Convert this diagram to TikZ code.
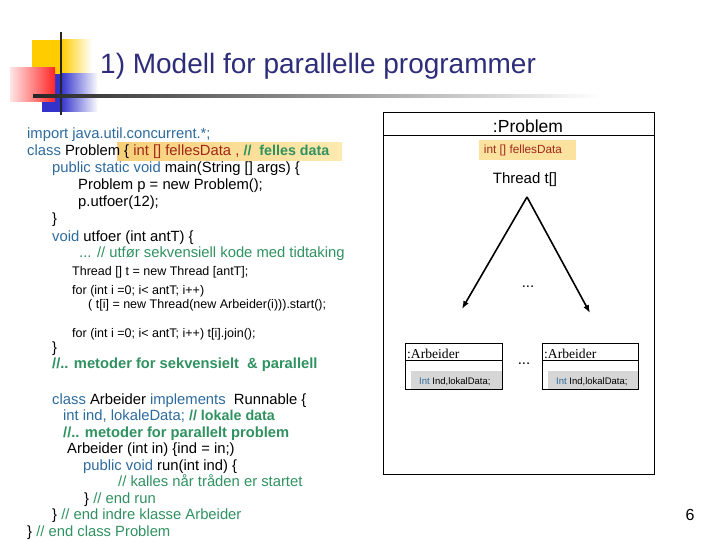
\documentclass[tikz,border=0pt]{standalone}
\usepackage{fontspec}
\setmainfont{Liberation Sans}
\newfontfamily\umlfont{Liberation Serif}
\usetikzlibrary{arrows.meta}
\definecolor{titelblau}{HTML}{2D2D7A}
\definecolor{kwblau}{HTML}{2C6A9E}
\definecolor{komgruen}{HTML}{2F9160}
\definecolor{datarot}{HTML}{A0281A}
\definecolor{gelb}{HTML}{FFCC00}
\definecolor{blau}{HTML}{3333CC}
\definecolor{hlorange}{HTML}{F8CF78}
\definecolor{hlgelb}{HTML}{FDEAB0}
\newcommand{\kw}[1]{\textcolor{kwblau}{#1}}
\newcommand{\kom}[1]{\textcolor{komgruen}{#1}}
\newcommand{\bkom}[1]{\textcolor{komgruen}{\fontsize{14.3}{17}\selectfont\bfseries #1}}
\newcommand{\rot}[1]{\textcolor{datarot}{#1}}
\begin{document}
\begin{tikzpicture}[x=1pt,y=-1pt,
    kode/.style={anchor=base west,inner sep=0pt,font=\fontsize{14.8}{17}\selectfont},
    klein/.style={kode,font=\fontsize{12.5}{14}\selectfont},
    fett/.style={kode,text=komgruen,font=\fontsize{14.7}{17}\selectfont\bfseries},
    objbox/.style={draw,line width=0.8pt,minimum width=97pt,minimum height=46pt,anchor=north west,inner sep=0pt},
    pfeil/.style={line width=1.6pt,-{Latex[length=8pt,width=6pt]}}]
\useasboundingbox (0,0) rectangle (720,540);
% Folienlogo
\fill[gelb] (32,40) rectangle (61,74);
\shade[left color=gelb,right color=white] (61,40) rectangle (92,74);
\fill[blau] (42,74) rectangle (61,112);
\shade[left color=blau,right color=white] (61,74) rectangle (98,112);
\shade[left color=red!10,right color=red!85] (10,68) rectangle (55,102);
\draw[line width=2.6pt,black!85] (61,32) -- (61,115);
\shade[left color=black!85,right color=white] (33,94.5) rectangle (600,97.5);
\node[anchor=base west,inner sep=0pt,text=titelblau,font=\fontsize{28}{32}\selectfont] (titel) at (100,74) {1) Modell for parallelle programmer};
% Javakode
\shade[left color=hlorange,right color=hlgelb] (117,143) rectangle (342,161);
\node[kode] (imp) at (27,139) {\kw{import java.util.concurrent.*;}};
\node[kode] (klasse) at (27,156) {\kw{class} Problem \{ \rot{int [] fellesData ,} \bkom{//\ \ felles data}};
\node[kode] (hoved) at (52,173) {\kw{public static void} main(String [] args) \{};
\node[kode] (nyp) at (78,190) {Problem p = new Problem();};
\node[kode] (kall) at (78,207) {p.utfoer(12);};
\node[kode] (slutt1) at (52,224) {\}};
\node[kode] (utfoer) at (52,241) {\kw{void} utfoer (int antT) \{};
\node[kode] (sekv) at (79,258) {\kom{... // utfør sekvensiell kode med tidtaking}};
\node[klein] (tab) at (72,275) {Thread [] t = new Thread [antT];};
\node[klein] (for1) at (72,294) {for (int i =0; i< antT; i++)};
\node[klein] (start) at (88,308) {( t[i] = new Thread(new Arbeider(i))).start();};
\node[klein] (for2) at (72,337) {for (int i =0; i< antT; i++) t[i].join();};
\node[kode] (slutt2) at (52,352) {\}};
\node[fett] (metoder1) at (52,368) {//.. metoder for sekvensielt\ \ \& parallell};
\node[kode] (arbklasse) at (52,404) {\kw{class} Arbeider \kw{implements}\ \ Runnable \{};
\node[kode] (lokal) at (63,420.5) {\kw{int ind, lokaleData;} \bkom{// lokale data}};
\node[fett] (metoder2) at (63,437) {//.. metoder for parallelt problem};
\node[kode] (konstr) at (67,453.5) {Arbeider (int in) \{ind = in;)};
\node[kode] (run) at (83,470) {\kw{public void} run(int ind) \{};
\node[kode] (kalles) at (118,486.5) {\kom{// kalles når tråden er startet}};
\node[kode] (endrun) at (84,503) {\} \kom{// end run}};
\node[kode] (endarb) at (52,519.5) {\} \kom{// end indre klasse Arbeider}};
\node[kode] (endprob) at (27,536) {\} \kom{// end class Problem}};
% Objektdiagram
\node[draw,line width=1pt,minimum width=271pt,minimum height=362pt,anchor=north west] (problem) at (383,112) {};
\draw[line width=1pt] ([yshift=-24pt]problem.north west) -- ([yshift=-24pt]problem.north east);
\node[anchor=base,inner sep=0pt,font=\fontsize{17.5}{20}\selectfont] (probnavn) at (528,133) {:Problem};
\node[fill=hlgelb!70!hlorange,minimum width=97pt,minimum height=20pt,anchor=north west,inner sep=0pt] (felles) at (479,140) {};
\node[anchor=base,inner sep=0pt,text=datarot,font=\fontsize{11.8}{14}\selectfont] (fellestxt) at (523,154) {int [] fellesData};
\node[anchor=base,inner sep=0pt,font=\fontsize{15}{17}\selectfont] (traader) at (525,184) {Thread t[]};
\coordinate (topp) at (527,197);
\coordinate (venstre) at (462,309);
\coordinate (hoyre) at (590,313);
\draw[pfeil] (topp) -- (venstre);
\draw[pfeil] (topp) -- (hoyre);
\node[anchor=base,inner sep=0pt,font=\fontsize{15}{17}\selectfont] (prikker1) at (528,287) {...};
\node[objbox] (arb1) at (405,343) {};
\node[objbox,minimum width=96pt] (arb2) at (542,343) {};
\foreach \b in {arb1,arb2}{
  \fill[black!16] ([xshift=6pt,yshift=-28pt]\b.north west) rectangle ([xshift=-0.4pt]\b.south east);
  \draw[line width=0.8pt] ([yshift=-17pt]\b.north west) -- ([yshift=-17pt]\b.north east);
  \draw[line width=0.8pt] (\b.north west) rectangle (\b.south east);
  \node[anchor=base west,inner sep=0pt,font=\umlfont\fontsize{13.6}{15}\selectfont] (\b navn) at ([xshift=2pt,yshift=-15pt]\b.north west) {:Arbeider};
  \node[anchor=base west,inner sep=0pt,font=\fontsize{9.5}{11}\selectfont] (\b data) at ([xshift=14pt,yshift=-41pt]\b.north west) {\kw{Int} Ind,lokalData;};
}
\node[anchor=base,inner sep=0pt,font=\fontsize{15}{17}\selectfont] (prikker2) at (524,364) {...};
\node[anchor=base,inner sep=0pt,font=\fontsize{16}{18}\selectfont] (side) at (690,520) {6};
\end{tikzpicture}
\end{document}
